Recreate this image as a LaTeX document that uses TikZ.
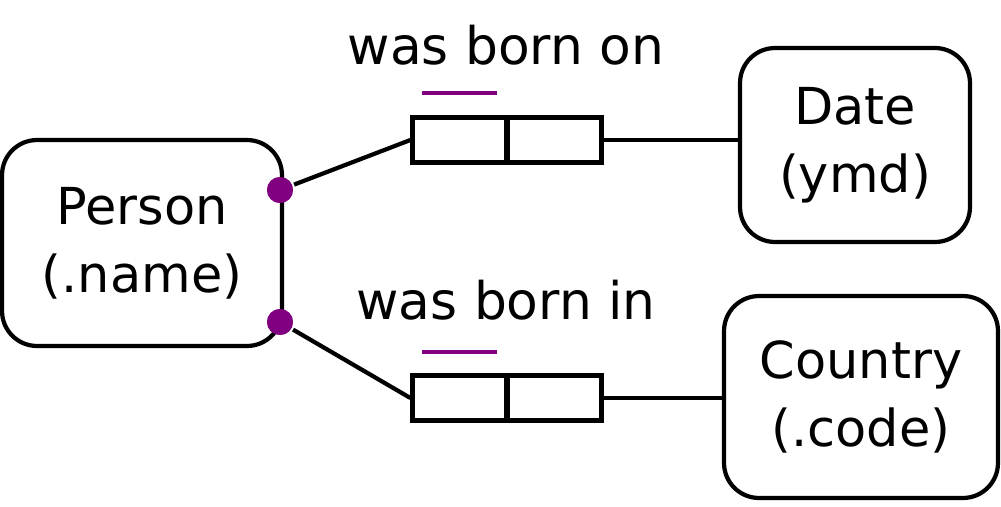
\documentclass[tikz,border=0pt]{standalone}
\usepackage{fontspec}
\setmainfont{DejaVu Sans}
\begin{document}
\begin{tikzpicture}[x=0.02cm,y=-0.02cm,line width=2.4pt,
  ent/.style={draw,rounded corners=0.7cm,align=center,font=\fontsize{29}{38.5}\selectfont,inner sep=0pt},
  role/.style={draw,minimum width=1.9cm,minimum height=0.9cm,inner sep=0pt},
  lbl/.style={font=\fontsize{29.5}{34}\selectfont},
  dot/.style={circle,fill=purple,inner sep=0pt,minimum size=0.52cm,draw=none},
  uc/.style={draw=purple,line width=2.6pt}]
\definecolor{purple}{RGB}{128,0,128}
\useasboundingbox (0,0) rectangle (1001,507);
\node[ent,minimum width=5.6cm,minimum height=4.12cm] (person) at (142,243) {Person\\(.name)};
\node[ent,minimum width=4.6cm,minimum height=3.88cm] (date) at (855,145) {Date\\(ymd)};
\node[ent,minimum width=5.48cm,minimum height=4.04cm] (country) at (861,397) {Country\\(.code)};
\node[role] (r1a) at (460,140) {};
\node[role] (r1b) at (554,140) {};
\node[role] (r2a) at (460,398) {};
\node[role] (r2b) at (554,398) {};
\node[dot] (d1) at (280,190) {};
\node[dot] (d2) at (280,322) {};
\node[lbl] (l1) at (506,45) {was born on};
\node[lbl] (l2) at (506,300) {was born in};
\coordinate (u1a) at (422,93); \coordinate (u1b) at (497,93);
\coordinate (u2a) at (422,352); \coordinate (u2b) at (497,352);
\draw[uc] (u1a) -- (u1b);
\draw[uc] (u2a) -- (u2b);
\draw (d1) -- (r1a.west);
\draw (d2) -- (r2a.west);
\draw (r1b.east) -- (date.west |- r1b.east);
\draw (r2b.east) -- (country.west |- r2b.east);
\node[dot] at (d1) {};
\node[dot] at (d2) {};
\end{tikzpicture}
\end{document}
